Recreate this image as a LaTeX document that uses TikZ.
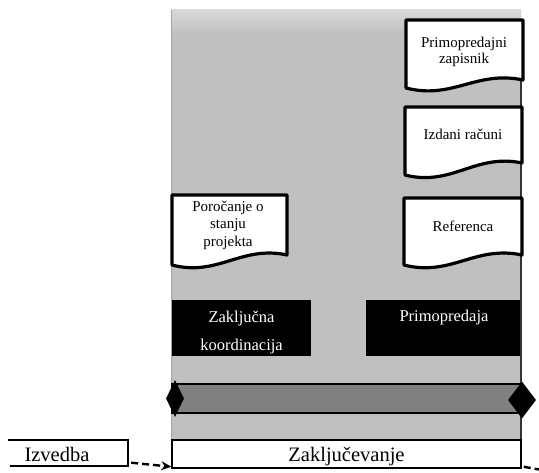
\documentclass[tikz,border=0pt]{standalone}
\usepackage{fontspec}
\setmainfont{Liberation Serif}
\usetikzlibrary{shapes.geometric,arrows.meta}

\definecolor{panelgray}{RGB}{192,192,192}
\definecolor{paneltop}{RGB}{216,216,216}
\definecolor{bargray}{RGB}{128,128,128}

% document symbol: x-left, x-right, top, bottom-left, bottom-right
\newcommand\docsymbol[5]{%
  \pgfmathsetmacro\docw{#2-#1}%
  \draw[docline] (#1,#3) -- (#2,#3) -- (#2,#5)
    .. controls ({#1+0.6*\docw},{#5-10}) and ({#1+0.4*\docw},{#4+12}) .. (#1,#4) -- cycle;}

\tikzset{
  docline/.style={draw=black, line width=3.2pt, fill=white, line join=round},
  doctext/.style={inner sep=0pt, align=center, font=\fontsize{15}{16}\selectfont},
  blackbox/.style={fill=black, inner sep=0pt},
  boxtext/.style={inner sep=0pt, align=center, text=white, font=\fontsize{16.5}{28}\selectfont},
  phasebox/.style={draw=black, line width=1.5pt, fill=white, inner sep=0pt},
  phasetext/.style={inner sep=0pt, anchor=base, font=\fontsize{20.5}{24}\selectfont},
  milestone/.style={diamond, fill=black, inner sep=0pt},
  dasharrow/.style={line width=2.4pt, dash pattern=on 7pt off 4pt, -{Stealth[length=10pt,width=9pt]}},
  dashline/.style={line width=2.4pt, dash pattern=on 7pt off 4pt}
}

\begin{document}
\begin{tikzpicture}[x=1pt,y=-1pt]
\useasboundingbox (0,0) rectangle (539,473);

% phase panel
\fill[panelgray] (171,10) rectangle (521,469);
\shade[top color=paneltop, bottom color=panelgray] (171,10) rectangle (521,34);
\draw[gray!70, line width=0.6pt] (171,10) -- (171,440);
\draw[black!80, line width=1.2pt] (521,20) -- (521,440);

% documents
\docsymbol{406}{523}{20}{88}{80}
\node[doctext] (zapisnik) at (464,52) {Primopredajni\\zapisnik};
\docsymbol{405}{522}{107}{175}{163}
\node[doctext, anchor=base] (racuni) at (463,140) {Izdani računi};
\docsymbol{404}{522}{198}{265}{255}
\node[doctext, anchor=base] (referenca) at (463,232) {Referenca};
\docsymbol{172}{287}{195}{265}{255}
\node[doctext, font=\fontsize{15}{17.5}\selectfont] (porocanje) at (228,225) {Poročanje o\\stanju\\projekta};

% activities
\node[blackbox, minimum width=139pt, minimum height=56pt] (koordinacija) at (241.5,328) {};
\node[boxtext] (koordtext) at (241.5,333) {Zaključna\\koordinacija};
\node[blackbox, minimum width=154pt, minimum height=56pt] (primopredaja) at (443,328) {};
\node[boxtext, anchor=base] (primotext) at (444,322) {Primopredaja};

% duration bar with milestones
\node[draw=black, line width=1.1pt, fill=bargray, inner sep=0pt,
      minimum width=349pt, minimum height=29pt] (bar) at (346.5,398.5) {};
\node[milestone, minimum width=18pt, minimum height=37pt] (start) at (175,398.5) {};
\node[milestone, minimum width=28pt, minimum height=37pt] (finish) at (522,400) {};

% phases
\node[inner sep=0pt, minimum width=120pt, minimum height=26pt] (izvedba) at (68,453) {};
\draw[line width=1.5pt] (izvedba.north west) -- (izvedba.north east)
  -- (izvedba.south east) -- ([xshift=2pt]izvedba.south west);
\node[phasetext] (izvedbatext) at (57,462) {Izvedba};
\node[phasebox, minimum width=349pt, minimum height=28pt] (zakljucevanje) at (346.5,454) {};
\node[phasetext] (zaktext) at (346.5,462) {Zaključevanje};

\coordinate (offright) at (539,469.5);
\draw[dasharrow] ([xshift=3pt,yshift=3.5pt]izvedba.south east) -- ([yshift=2pt]zakljucevanje.south west);
\draw[dashline] ([xshift=2pt,yshift=2pt]zakljucevanje.south east) -- (offright);
\end{tikzpicture}
\end{document}
